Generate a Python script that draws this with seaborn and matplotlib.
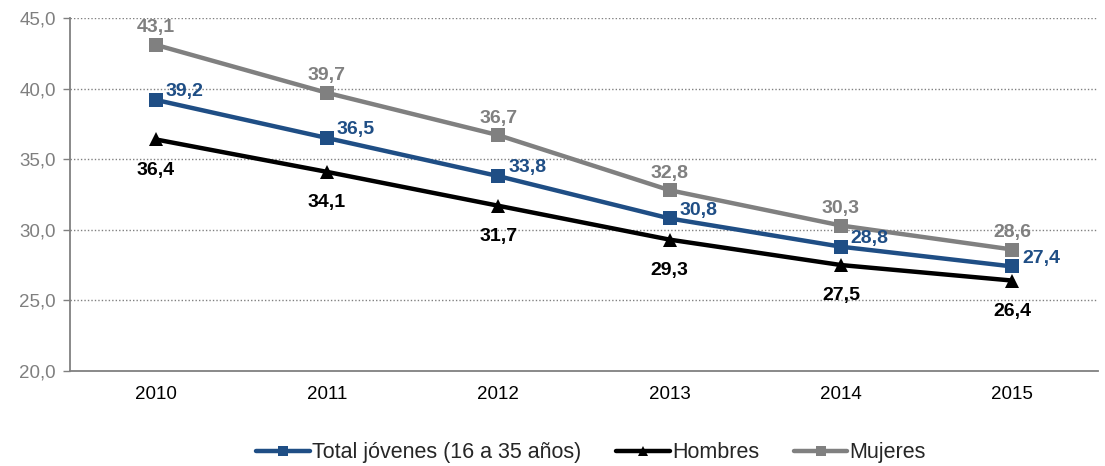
import matplotlib
matplotlib.use("Agg")
import matplotlib.pyplot as plt
import seaborn as sns
import pandas as pd

years = ["2010", "2011", "2012", "2013", "2014", "2015"]
total = [39.2, 36.5, 33.8, 30.8, 28.8, 27.4]
hombres = [36.4, 34.1, 31.7, 29.3, 27.5, 26.4]
mujeres = [43.1, 39.7, 36.7, 32.8, 30.3, 28.6]
series_names = ["Total jóvenes (16 a 35 años)", "Hombres", "Mujeres"]

sns.set_style("white")
plt.rcParams['font.family'] = ['Liberation Sans', 'DejaVu Sans']

rows = []
for name, vals in zip(series_names, [total, hombres, mujeres]):
    for i, v in enumerate(vals):
        rows.append({"x": i, "y": v, "serie": name})
df = pd.DataFrame(rows)

colors = {series_names[0]: "#1F4E85", series_names[1]: "#000000", series_names[2]: "#808080"}
markers = {series_names[0]: "s", series_names[1]: "^", series_names[2]: "s"}

fig = plt.figure(figsize=(11.05, 4.66), dpi=100)
ax = fig.add_axes([0.0633, 0.204, 0.9304, 0.7574])

sns.lineplot(data=df, x="x", y="y", hue="serie", style="serie", palette=colors,
             markers=markers, dashes=False, linewidth=3.2, markersize=9.5,
             markeredgewidth=0, ax=ax, legend=True, hue_order=series_names,
             style_order=series_names)

ax.set_ylim(20, 45)
ax.set_xlim(-0.5, 5.45)
ax.set_yticks([20, 25, 30, 35, 40, 45])
ax.set_yticklabels([f"{v:.1f}".replace(".", ",") for v in [20, 25, 30, 35, 40, 45]],
                   color="#7F7F7F", fontsize=13.5)
ax.set_xticks(range(len(years)))
ax.set_xticklabels(years, fontsize=13.5, color="#000000")
ax.set_xticks([i + 0.5 for i in range(-1, 6)], minor=True)
ax.tick_params(axis="x", which="major", length=0, pad=11)
ax.tick_params(axis="x", which="minor", length=5, color="#808080", width=1)
ax.tick_params(axis="y", length=5, color="#808080", width=1, pad=5, direction="out", left=True)
ax.set_xlabel("")
ax.set_ylabel("")
for y in [25, 30, 35, 40, 45]:
    ax.axhline(y, color="#808080", linestyle=(0, (1, 1.5)), linewidth=1, zorder=0)
for s in ["top", "right"]:
    ax.spines[s].set_visible(False)
ax.spines["left"].set_color("#808080")
ax.spines["bottom"].set_color("#808080")
ax.spines["left"].set_linewidth(1.3)
ax.spines["bottom"].set_linewidth(1.3)

def fmt(v):
    return f"{v:.1f}".replace(".", ",")

for i, v in enumerate(mujeres):
    ax.annotate(fmt(v), (i, v), xytext=(0, 6), textcoords="offset points",
                ha="center", va="bottom", fontsize=14, fontweight="bold", color="#808080")
for i, v in enumerate(total):
    ax.annotate(fmt(v), (i, v), xytext=(7, 6), textcoords="offset points",
                ha="left", va="center", fontsize=14, fontweight="bold", color="#1F4E85")
for i, v in enumerate(hombres):
    ax.annotate(fmt(v), (i, v), xytext=(0, -16), textcoords="offset points",
                ha="center", va="top", fontsize=14, fontweight="bold", color="#000000")

handles, labels = ax.get_legend_handles_labels()
ax.legend_.remove()
fig.legend(handles, labels, loc="center", bbox_to_anchor=(0.535, 0.028), ncol=3,
           frameon=False, fontsize=15.5, handlelength=2.5, handletextpad=0.1,
           columnspacing=1.6, markerscale=0.75)

fig.savefig("out.png", dpi=100)
